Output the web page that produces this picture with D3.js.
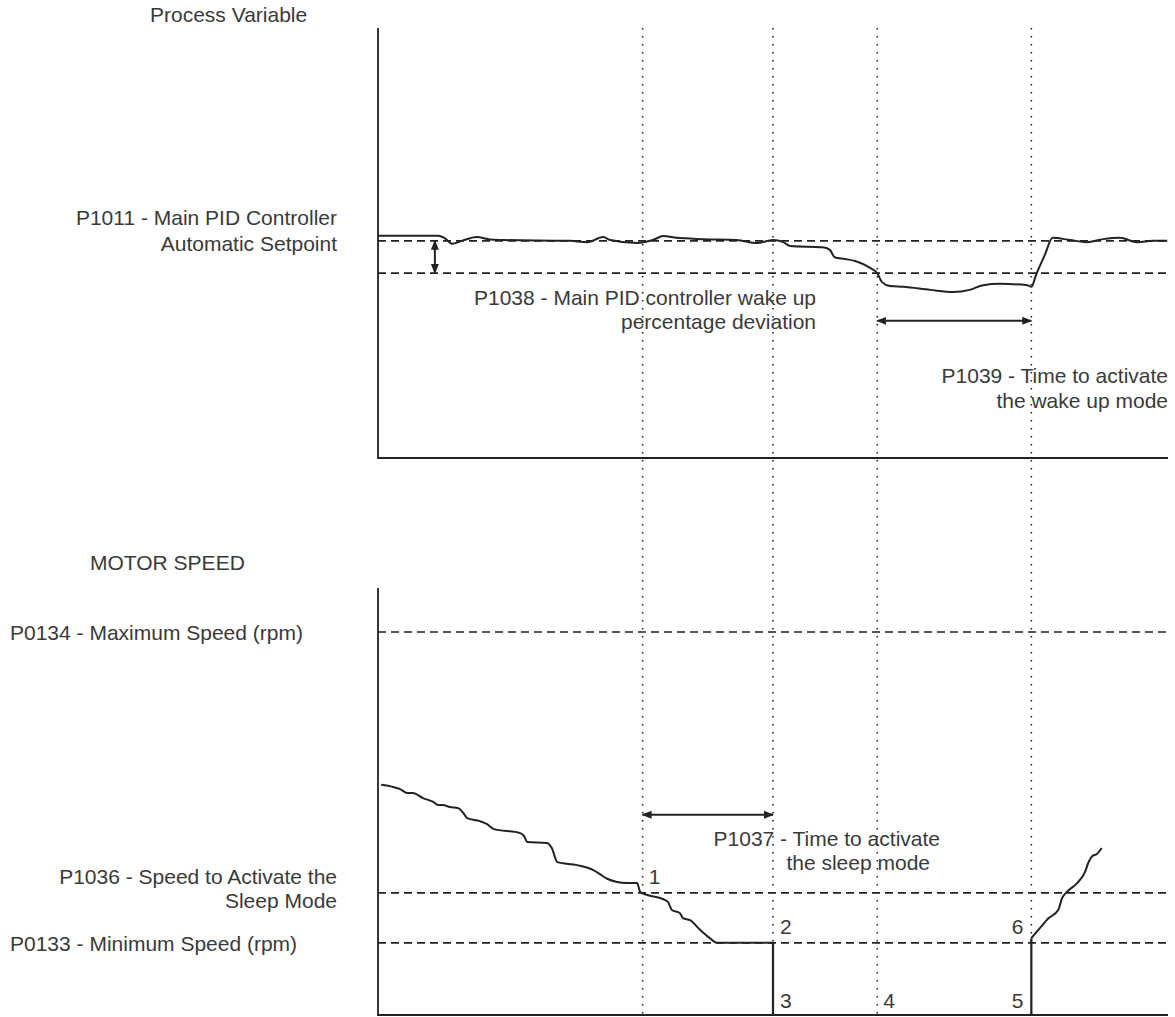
<!DOCTYPE html>
<html>
<head>
<meta charset="utf-8">
<script src="https://cdn.jsdelivr.net/npm/d3@7"></script>
<style>
  html, body { margin: 0; padding: 0; background: #fff; }
  svg { display: block; }
  text { font-family: "Liberation Sans", Arial, sans-serif; fill: #3a3a3a; font-size: 21px; }
</style>
</head>
<body>
<svg id="chart" width="1175" height="1017"></svg>
<script>
// ---------- DATA ----------
// time axis 0..100 (arbitrary units); values in % of panel height
const eventTimes = [33.5, 50, 63.2, 82.7];

// Process variable (top panel)
const pvTime = [0, 7.6, 8.4, 9.4, 10.6, 12.5, 14.2, 15.8, 24.3, 26.5, 28.5, 29.4, 32.8, 34.8, 36.1, 37.8, 41.1, 45.4, 48.0, 50.0, 51.3, 52.2, 56.3, 57.2, 57.8, 59.1, 60.4, 62.3, 63.2, 63.8, 64.8, 66.5, 69.9, 72.8, 74.9, 76.6, 78.7, 82.2, 82.7, 83.3, 84.4, 85.4, 87.6, 89.7, 91.8, 93.9, 96.1, 98.1, 99.9];
const pvValue = [51.7, 51.7, 51.2, 49.8, 50.5, 51.4, 50.8, 50.7, 50.5, 50.2, 51.4, 50.7, 50.0, 50.7, 51.6, 51.2, 50.9, 50.7, 50.0, 50.7, 50.2, 49.3, 49.0, 48.4, 46.7, 46.3, 45.8, 44.2, 43.0, 40.9, 40.0, 39.8, 39.1, 38.6, 39.1, 40.2, 40.5, 40.2, 39.8, 42.6, 47.2, 51.2, 50.7, 50.2, 50.9, 51.2, 50.2, 50.5, 50.5];
const pvSetpoint = 50.5;   // P1011
const pvWakeLevel = 43.0;  // setpoint - P1038

// Motor speed (bottom panel)
const speedDownTime = [0.4, 1.9, 2.8, 3.7, 4.4, 5.7, 7.0, 7.6, 8.2, 9.1, 10.1, 10.8, 11.3, 12.9, 13.8, 14.6, 18.0, 18.5, 18.9, 21.4, 22.0, 22.7, 25.2, 27.2, 28.1, 29.0, 31.5, 32.8, 33.2, 34.1, 35.7, 36.7, 37.2, 38.2, 38.6, 39.5, 40.8, 42.0, 42.9, 50.0];
const speedDownValue = [53.9, 53.4, 52.9, 52.0, 52.0, 50.8, 49.9, 49.2, 49.2, 48.7, 48.5, 47.3, 46.1, 45.4, 44.7, 43.6, 42.6, 41.9, 40.5, 40.3, 39.1, 35.8, 35.1, 34.0, 33.0, 31.9, 30.9, 30.9, 28.8, 28.1, 27.4, 26.5, 24.6, 23.9, 22.7, 22.2, 19.9, 18.0, 16.9, 16.9];
const speedSleepTime = [50.0, 50.0, 82.7, 82.7];
const speedSleepValue = [16.9, 0, 0, 18.0];
const speedUpTime = [82.7, 83.8, 84.9, 86.1, 86.6, 87.2, 88.5, 89.5, 89.9, 90.4, 91.0, 91.6];
const speedUpValue = [18.0, 20.4, 22.7, 24.6, 27.4, 28.8, 30.9, 33.5, 35.6, 37.2, 37.7, 39.1];
const speedMax = 89.7;    // P0134
const speedSleep = 28.6;  // P1036
const speedMin = 16.9;    // P0133

const pointLabels = ["1", "2", "3", "4", "5", "6"];

// ---------- LAYOUT ----------
const svg = d3.select("#chart");
const x = d3.scaleLinear().domain([0, 100]).range([378, 1168]);
const yPV = d3.scaleLinear().domain([0, 100]).range([458, 28]);
const ySP = d3.scaleLinear().domain([0, 100]).range([1015, 588]);

const ink = "#222";

// markers
const defs = svg.append("defs");
defs.append("marker").attr("id", "arr").attr("viewBox", "0 0 10 10")
  .attr("refX", 9).attr("refY", 5).attr("markerWidth", 10).attr("markerHeight", 10)
  .attr("markerUnits", "userSpaceOnUse").attr("orient", "auto-start-reverse")
  .append("path").attr("d", "M0,1 L10,5 L0,9 Z").attr("fill", ink);

// vertical dotted event lines
svg.append("g").selectAll("line").data(eventTimes).join("line")
  .attr("x1", d => x(d)).attr("x2", d => x(d))
  .attr("y1", yPV(100)).attr("y2", ySP(0))
  .attr("stroke", ink).attr("stroke-width", 1.6).attr("stroke-dasharray", "1.6,6.4");

// axes (L shape)
function lAxis(yScale) {
  svg.append("path")
    .attr("d", `M${x(0)},${yScale(100)} L${x(0)},${yScale(0)} L${x(100)},${yScale(0)}`)
    .attr("fill", "none").attr("stroke", ink).attr("stroke-width", 1.8);
}
lAxis(yPV);
lAxis(ySP);

// dashed reference lines
function dashed(yScale, v) {
  svg.append("line").attr("x1", x(0)).attr("x2", x(100))
    .attr("y1", yScale(v)).attr("y2", yScale(v))
    .attr("stroke", ink).attr("stroke-width", 1.6).attr("stroke-dasharray", "8,5");
}
dashed(yPV, pvSetpoint);
dashed(yPV, pvWakeLevel);
dashed(ySP, speedMax);
dashed(ySP, speedSleep);
dashed(ySP, speedMin);

// curves
const pvData = pvTime.map((t, i) => [t, pvValue[i]]);
const smoothPV = d3.line().x(d => x(d[0])).y(d => yPV(d[1])).curve(d3.curveMonotoneX);
svg.append("path").attr("d", smoothPV(pvData)).attr("fill", "none").attr("stroke", ink).attr("stroke-width", 2);

const smoothSP = d3.line().x(d => x(d[0])).y(d => ySP(d[1])).curve(d3.curveMonotoneX);
const linearSP = d3.line().x(d => x(d[0])).y(d => ySP(d[1]));
svg.append("path").attr("d", smoothSP(speedDownTime.map((t, i) => [t, speedDownValue[i]])))
  .attr("fill", "none").attr("stroke", ink).attr("stroke-width", 2);
svg.append("path").attr("d", linearSP(speedSleepTime.map((t, i) => [t, speedSleepValue[i]])))
  .attr("fill", "none").attr("stroke", ink).attr("stroke-width", 2.2);
svg.append("path").attr("d", smoothSP(speedUpTime.map((t, i) => [t, speedUpValue[i]])))
  .attr("fill", "none").attr("stroke", ink).attr("stroke-width", 2);

// double arrows
function dblArrow(x1, y1, x2, y2) {
  svg.append("line").attr("x1", x1).attr("y1", y1).attr("x2", x2).attr("y2", y2)
    .attr("stroke", ink).attr("stroke-width", 2)
    .attr("marker-start", "url(#arr)").attr("marker-end", "url(#arr)");
}
dblArrow(x(7.2), yPV(pvSetpoint), x(7.2), yPV(pvWakeLevel));
dblArrow(x(eventTimes[2]), yPV(31.9), x(eventTimes[3]), yPV(31.9));
dblArrow(x(eventTimes[0]), ySP(46.9), x(eventTimes[1]), ySP(46.9));

// text helper
function label(tx, ty, str, anchor) {
  svg.append("text").attr("x", tx).attr("y", ty).attr("text-anchor", anchor || "start").text(str);
}
label(150, 22, "Process Variable");
label(337, 225, "P1011 - Main PID Controller", "end");
label(337, 251, "Automatic Setpoint", "end");
label(816, 305, "P1038 - Main PID controller wake up", "end");
label(816, 329, "percentage deviation", "end");
label(1168, 383, "P1039 - Time to activate", "end");
label(1168, 408, "the wake up mode", "end");

label(90, 570, "MOTOR SPEED");
label(10, 640, "P0134 - Maximum Speed (rpm)");
label(337, 884, "P1036 - Speed to Activate the", "end");
label(337, 908, "Sleep Mode", "end");
label(10, 951, "P0133 - Minimum Speed (rpm)");
label(940, 846, "P1037 - Time to activate", "end");
label(930, 870, "the sleep mode", "end");

// point numbers
const numPos = [
  [eventTimes[0], speedSleep, 6, -9, "start"],
  [eventTimes[1], speedMin, 7, -9, "start"],
  [eventTimes[1], 0, 7, -7, "start"],
  [eventTimes[2], 0, 6, -7, "start"],
  [eventTimes[3], 0, -8, -7, "end"],
  [eventTimes[3], speedMin, -8, -9, "end"]
];
numPos.forEach((p, i) => label(x(p[0]) + p[2], ySP(p[1]) + p[3], pointLabels[i], p[4]));
</script>
</body>
</html>
